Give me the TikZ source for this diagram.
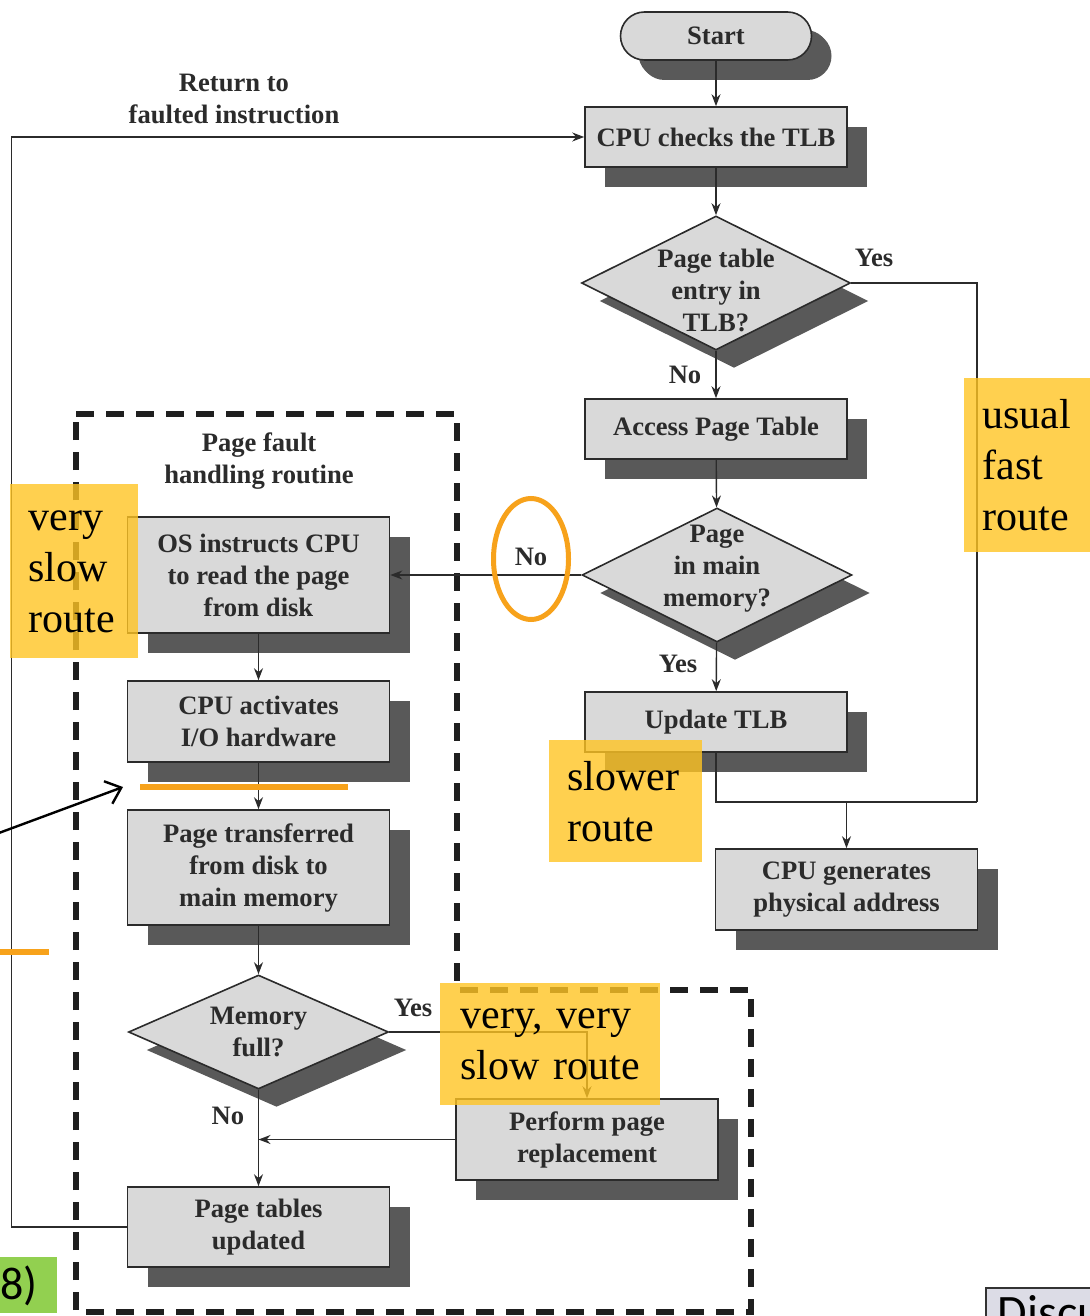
\documentclass[tikz,border=0pt]{standalone}
\usepackage{fontspec}
\setmainfont{Liberation Serif}
\newfontfamily\notefont{Carlito}
\usetikzlibrary{shapes.geometric,shadows,arrows.meta}
\definecolor{boxgray}{HTML}{D9D9D9}
\definecolor{shadowgray}{HTML}{595959}
\definecolor{inkgray}{HTML}{2B2B2B}
\definecolor{notefill}{HTML}{FFC423}
\definecolor{markorange}{HTML}{F7A21B}
\definecolor{figgreen}{HTML}{92D050}
\definecolor{discfill}{HTML}{DCDCE6}

\begin{document}
\begin{tikzpicture}[x=0.5pt,y=-0.5pt,font=\bfseries\fontsize{13.3}{16}\selectfont,
	procbox/.style={rectangle,draw=inkgray,line width=0.8pt,fill=boxgray,text=inkgray,align=center,
	minimum width=131pt,inner sep=2pt,
	drop shadow={shadow xshift=10pt,shadow yshift=-10pt,fill=shadowgray,draw=none,opacity=1}},
	decision/.style={diamond,draw=inkgray,line width=0.8pt,fill=boxgray,inner sep=0pt,
	drop shadow={shadow xshift=9pt,shadow yshift=-9pt,fill=shadowgray,draw=none,opacity=1}},
	lbl/.style={text=inkgray,inner sep=0pt,align=center},
	flow/.style={draw=inkgray,line width=0.7pt,-{Stealth[length=6pt,width=4.5pt]}},
	plainline/.style={draw=inkgray,line width=0.7pt},
	faultzone/.style={draw=black!88,line width=3pt,dash pattern=on 9pt off 6pt},
	routebox/.style={rectangle,anchor=north west,fill=notefill,fill opacity=0.8,text opacity=1,text=black,
	font=\normalfont\fontsize{21}{25.5}\selectfont,align=left,inner ysep=0pt},
	orangebar/.style={draw=markorange,line width=3pt},
	pointer/.style={draw=black,line width=1.2pt,-{Straight Barb[length=7pt,width=12pt]}}]
\useasboundingbox (0,0) rectangle (1090,1316);
\clip (0,0) rectangle (1090,1316);

% page fault handling region
\draw[faultzone] (76,414) -- (457,414) -- (457,990) -- (751,990) -- (751,1312) -- (76,1312) -- cycle;
\node[lbl] (faultlbl) at (259,461) {Page fault\\handling routine};

% right column
\node[procbox,rounded corners=12pt,minimum width=95.5pt,minimum height=24pt,
	drop shadow={shadow xshift=9pt,shadow yshift=-9pt,fill=shadowgray,draw=none,opacity=1}] (start) at (716,36) {Start};
\node[procbox,minimum height=30pt] (tlbcheck) at (716,137) {CPU checks the TLB};
\node[decision,minimum width=134.5pt,minimum height=67pt] (tlbhit) at (716,283) {};
\node[lbl] (tlbhittxt) at (716,290) {Page table\\entry in\\TLB?};
\node[procbox,minimum height=30pt] (pgtable) at (716,429) {Access Page Table};
\node[decision,minimum width=135pt,minimum height=67pt] (inmem) at (717,575) {};
\node[lbl] (inmemtxt) at (717,569) {Page\\in main\\memory?};
\node[procbox,minimum height=30pt] (updtlb) at (716,722) {Update TLB};
\node[procbox,minimum height=40.5pt] (physaddr) at (846.5,889.5) {CPU generates\\physical address};

% left column
\node[procbox,minimum height=58pt] (osread) at (258.5,575) {OS instructs CPU\\to read the page\\from disk};
\node[procbox,minimum height=40.5pt] (ioact) at (258.5,721.5) {CPU activates\\I/O hardware};
\node[procbox,minimum height=57.5pt] (transfer) at (258.5,867.5) {Page transferred\\from disk to\\main memory};
\node[decision,minimum width=130pt,minimum height=57pt] (memfull) at (258.5,1032) {};
\node[lbl] (memfulltxt) at (258.5,1032) {Memory\\full?};
\node[procbox,minimum height=40.5pt] (replace) at (587,1139.5) {Perform page\\replacement};
\node[procbox,minimum height=40pt] (tblupd) at (258.5,1227) {Page tables\\updated};

% labels
\node[lbl] (retlbl) at (234,99) {Return to\\faulted instruction};
\node[lbl] (tlbyes) at (874,258) {Yes};
\node[lbl] (tlbno) at (685,375) {No};
\node[lbl] (memno) at (531,557) {No};
\node[lbl] (memyes) at (678,664) {Yes};
\node[lbl] (fullyes) at (413,1008) {Yes};
\node[lbl] (fullno) at (228,1116) {No};

% connectors
\coordinate (fastjoin) at (977,802);
\draw[flow] (start) -- (tlbcheck);
\draw[flow] (tlbcheck) -- (tlbhit);
\draw[flow] (tlbhit) -- (pgtable);
\draw[flow] (pgtable) -- (inmem);
\draw[flow] (inmem) -- (updtlb);
\draw[flow] (inmem) -- (osread);
\draw[plainline] (tlbhit.east) -| (fastjoin);
\draw[plainline] (updtlb.south) |- (fastjoin);
\draw[flow] (physaddr.north |- fastjoin) -- (physaddr.north);
\draw[flow] (osread) -- (ioact);
\draw[flow] (ioact) -- (transfer);
\draw[flow] (transfer) -- (memfull);
\draw[flow] (memfull) -- (tblupd);
\draw[flow] (memfull.east) -| (replace.north);
\draw[flow] (replace.west) -- (memfull.south |- replace.west);
\draw[flow] (tblupd.west) -- ++(-115,0) |- (tlbcheck.west);

% annotations
\node[ellipse,draw=markorange,line width=2.5pt,minimum width=37.5pt,minimum height=60.5pt,inner sep=0pt] (noring) at (531,559) {};
\draw[orangebar] (140,787) -- (348,787);
\draw[orangebar] (-5,952) -- (49,952);
\coordinate (pointtail) at (-20,840);
\coordinate (pointtip) at (123,787);
\draw[pointer] (pointtail) -- (pointtip);
\node[routebox,text width=46pt,inner xsep=9pt,minimum height=87pt] (veryslow) at (10,484) {very\\slow\\route};
\node[routebox,text width=45pt,inner xsep=9pt,minimum height=87pt] (usualfast) at (964,378) {usual\\fast\\route};
\node[routebox,text width=58.5pt,inner xsep=9pt,minimum height=61pt] (slower) at (549,740) {slower\\route};
\node[routebox,text width=90pt,inner xsep=10pt,minimum height=61pt] (veryvery) at (440,983) {very, very\\slow route};
\node[anchor=north west,fill=figgreen,minimum width=28.5pt,minimum height=28pt,text width=28.5pt,inner xsep=0pt,inner ysep=0pt,
	align=left,text=black,font=\notefont\fontsize{23}{27}\selectfont] (figref) at (0,1257) {8)};
\node[anchor=north west,draw=black!80,fill=discfill,line width=0.8pt,inner xsep=6pt,inner ysep=4pt,text=black,
	font=\notefont\fontsize{24}{28}\selectfont] (discnote) at (985,1287) {Discu};
\end{tikzpicture}
\end{document}
